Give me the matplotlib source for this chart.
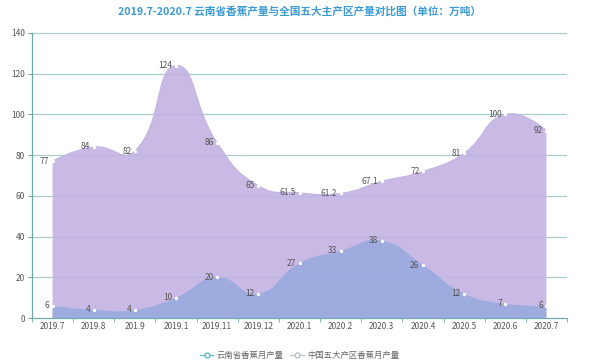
import matplotlib
matplotlib.use("Agg")
import matplotlib.pyplot as plt
import numpy as np
from matplotlib.path import Path
from matplotlib.patches import PathPatch
from matplotlib.lines import Line2D

plt.rcParams['font.family'] = ['Noto Sans CJK SC', 'DejaVu Sans']

categories = ["2019.7", "2019.8", "201.9", "2019.1", "2019.11", "2019.12",
              "2020.1", "2020.2", "2020.3", "2020.4", "2020.5", "2020.6", "2020.7"]
yunnan = [6, 4, 4, 10, 20, 12, 27, 33, 38, 26, 12, 7, 6]
china5 = [77, 84, 82, 124, 86, 65, 61.5, 61.2, 67.1, 72, 81, 100, 92]
yunnan_labels = ["6", "4", "4", "10", "20", "12", "27", "33", "38", "26", "12", "7", "6"]
china5_labels = ["77", "84", "82", "124", "86", "65", "61.5", "61.2", "67.1", "72", "81", "100", "92"]
series_names = ["云南省香蕉月产量", "中国五大产区香蕉月产量"]
title = "2019.7-2020.7 云南省香蕉产量与全国五大主产区产量对比图（单位：万吨）"

fig = plt.figure(figsize=(5.99, 3.63), dpi=100)
ax = fig.add_axes([32/599, 1-318/363, 535/599, 285/363])
ax.set_xlim(-0.5, 12.5)
ax.set_ylim(0, 140)

# pixel scale for smoothing
sx = 535/13.0
sy = 285/140.0

def smooth_path(xs, ys, smooth=0.5, close=True):
    xs = np.asarray(xs, float); ys = np.asarray(ys, float)
    px = xs*sx; py = ys*sy
    n = len(xs)
    cps_prev = []; cps_next = []
    for i in range(n):
        if i == 0 or i == n-1:
            cps_prev.append((px[i], py[i])); cps_next.append((px[i], py[i])); continue
        vx = px[i+1]-px[i-1]; vy = py[i+1]-py[i-1]
        d0 = np.hypot(px[i]-px[i-1], py[i]-py[i-1])
        d1 = np.hypot(px[i+1]-px[i], py[i+1]-py[i])
        r = d1/(d0+d1)
        cps_next.append((px[i]+vx*smooth*r, py[i]+vy*smooth*r))
        cps_prev.append((px[i]-vx*smooth*(1-r), py[i]-vy*smooth*(1-r)))
    verts = [(px[0], py[0])]; codes = [Path.MOVETO]
    for i in range(n-1):
        verts += [cps_next[i], cps_prev[i+1], (px[i+1], py[i+1])]
        codes += [Path.CURVE4]*3
    verts = [(a/sx, b/sy) for a, b in verts]
    if close:
        verts += [(xs[-1], 0), (xs[0], 0), (xs[0], ys[0])]
        codes += [Path.LINETO, Path.LINETO, Path.CLOSEPOLY]
    return Path(verts, codes)

x = np.arange(len(categories))

for v in range(20, 141, 20):
    ax.axhline(v, color='#a8cccc', lw=0.9, zorder=1)

ax.add_patch(PathPatch(smooth_path(x, china5), facecolor='#c3b3e3', edgecolor='none', alpha=0.9, zorder=2))
ax.add_patch(PathPatch(smooth_path(x, china5, close=False), facecolor='none', edgecolor='#c3b3e3', lw=0.8, zorder=2))
ax.add_patch(PathPatch(smooth_path(x, yunnan), facecolor='#97aadf', edgecolor='none', alpha=0.88, zorder=3))

for xi, yi, lab in zip(x, china5, china5_labels):
    ax.plot(xi, yi, 'o', ms=1.4, color='white', zorder=4)
    ax.annotate(lab, (xi, yi), xytext=(-2.5, 0), textcoords='offset points', ha='right', va='center',
                fontsize=6, color='#555555', zorder=5)
for xi, yi, lab in zip(x, yunnan, yunnan_labels):
    ax.plot(xi, yi, 'o', ms=1.4, color='white', zorder=4)
    ax.annotate(lab, (xi, yi), xytext=(-2.5, 0), textcoords='offset points', ha='right', va='center',
                fontsize=6, color='#555555', zorder=5)

for s in ['top', 'right']:
    ax.spines[s].set_visible(False)
ax.spines['left'].set_color('#6fa8a8')
ax.spines['bottom'].set_color('#6fa8a8')
ax.spines['left'].set_linewidth(0.9)
ax.spines['bottom'].set_linewidth(0.9)

ax.set_yticks(range(0, 141, 20))
ax.tick_params(axis='y', length=3, color='#6fa8a8', labelsize=6, labelcolor='#555555', pad=2)
ax.set_xticks(x)
ax.set_xticklabels(categories)
ax.tick_params(axis='x', length=0, labelsize=6, labelcolor='#555555', pad=3)
ax.set_xticks(np.arange(-0.5, 13, 1), minor=True)
ax.tick_params(axis='x', which='minor', length=3, color='#6fa8a8')

fig.text(0.5, 1-11/363, title, ha='center', va='center', fontsize=7.7, fontweight='bold', color='#3a9ad6')

h1 = Line2D([], [], color='#5fb8d2', lw=0.9, marker='o', ms=3.5, mfc='white', mec='#5fb8d2')
h2 = Line2D([], [], color='#b8c0c8', lw=0.9, marker='o', ms=3.5, mfc='white', mec='#b8c0c8')
fig.legend([h1, h2], series_names, loc='center', bbox_to_anchor=(0.5, 1-355/363), ncol=2,
           frameon=False, fontsize=6, labelcolor='#666666', handlelength=1.6, columnspacing=0.8,
           handletextpad=0.4)

fig.savefig('out.png', dpi=100)
